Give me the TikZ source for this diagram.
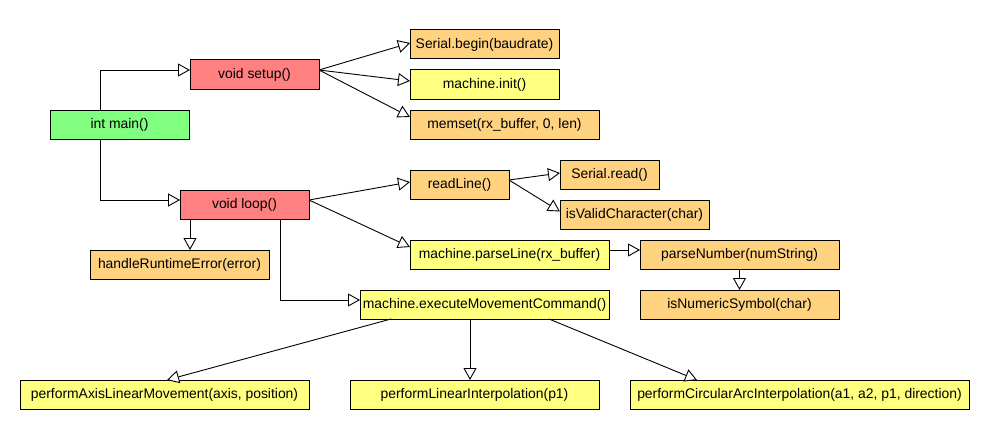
\documentclass[tikz,border=0pt]{standalone}
\usepackage{fontspec}
\setmainfont{Liberation Sans}
\usetikzlibrary{arrows.meta}
\definecolor{cred}{RGB}{255,128,128}
\definecolor{cgreen}{RGB}{128,255,128}
\definecolor{corange}{RGB}{255,210,128}
\definecolor{cyellow}{RGB}{255,255,128}
\tikzset{
  box/.style={draw=black, line width=1pt, inner sep=0pt, outer sep=0pt, minimum height=29pt, anchor=center, font=\fontsize{13.9}{16}\selectfont},
  redbox/.style={box, fill=cred},
  greenbox/.style={box, fill=cgreen},
  orangebox/.style={box, fill=corange},
  yellowbox/.style={box, fill=cyellow},
  arr/.style={draw=black, line width=0.9pt, -{Triangle[fill=white, length=12pt, width=13pt, line width=0.9pt]}}
}
\begin{document}
\begin{tikzpicture}[x=1pt, y=-1pt]
\useasboundingbox[fill=white] (0,0) rectangle (988,444);
% nodes
\node[greenbox, minimum width=139pt] (main) at (119.5,124.5) {int main()};
\node[redbox, minimum width=129pt] (setup) at (254.5,74.5) {void setup()};
\node[redbox, minimum width=129pt] (loop) at (244.5,204.5) {void loop()};
\node[orangebox, minimum width=179pt] (hre) at (179.5,264.5) {handleRuntimeError(error)};
\node[orangebox, minimum width=149pt] (sbegin) at (484.5,44.5) {Serial.begin(baudrate)};
\node[yellowbox, minimum width=149pt] (minit) at (484.5,84.5) {machine.init()};
\node[orangebox, minimum width=189pt] (memset) at (504.5,124.5) {memset(rx\_buffer, 0, len)};
\node[orangebox, minimum width=99pt] (readline) at (459.5,184.5) {readLine()};
\node[orangebox, minimum width=99pt] (sread) at (609.5,174.5) {Serial.read()};
\node[orangebox, minimum width=149pt] (isvalid) at (634.5,214.5) {isValidCharacter(char)};
\node[yellowbox, minimum width=199pt] (parseline) at (509.5,254.5) {machine.parseLine(rx\_buffer)};
\node[orangebox, minimum width=199pt] (parsenum) at (739.5,254.5) {parseNumber(numString)};
\node[orangebox, minimum width=199pt] (isnum) at (739.5,304.5) {isNumericSymbol(char)};
\node[yellowbox, minimum width=249pt] (exec) at (484.5,304.5) {machine.executeMovementCommand()};
\node[yellowbox, minimum width=289pt] (axis) at (164.5,394.5) {performAxisLinearMovement(axis, position)};
\node[yellowbox, minimum width=249pt] (linint) at (474.5,394.5) {performLinearInterpolation(p1)};
\node[yellowbox, minimum width=339pt] (circ) at (799.5,394.5) {performCircularArcInterpolation(a1, a2, p1, direction)};
% connectors
\draw[arr] ([xshift=-19.5pt]main.north) |- ([yshift=4.5pt]setup.west);
\draw[arr] ([xshift=-19.5pt]main.south) |- ([yshift=4.5pt]loop.west);
\draw[arr] ([yshift=4.5pt]setup.east) -- ([yshift=1.5pt]sbegin.west);
\draw[arr] ([yshift=4.5pt]setup.east) -- ([yshift=3.5pt]minit.west);
\draw[arr] ([yshift=4.5pt]setup.east) -- ([yshift=7.5pt]memset.west);
\draw[arr] ([yshift=4.5pt]loop.east) -- ([yshift=2.5pt]readline.west);
\draw[arr] ([yshift=4.5pt]loop.east) -- ([yshift=7.5pt]parseline.west);
\draw[arr] ([yshift=4.5pt]readline.east) -- ([yshift=1.5pt]sread.west);
\draw[arr] ([yshift=4.5pt]readline.east) -- ([yshift=3pt]isvalid.west);
\draw[arr] ([xshift=-54.5pt]loop.south) -- ([xshift=10.5pt]hre.north);
\draw[arr] ([xshift=35.5pt]loop.south) |- ([yshift=4.5pt]exec.west);
\draw[arr] ([yshift=4.5pt]parseline.east) -- ([yshift=4.5pt]parsenum.west);
\draw[arr] (parsenum.south) -- (isnum.north);
\draw[arr] ([xshift=-93.5pt]exec.south) -- ([xshift=2.5pt]axis.north);
\draw[arr] ([xshift=-14.5pt]exec.south) -- ([xshift=-4.5pt]linint.north);
\draw[arr] ([xshift=64.5pt]exec.south) -- ([xshift=-102.5pt]circ.north);
\end{tikzpicture}
\end{document}
